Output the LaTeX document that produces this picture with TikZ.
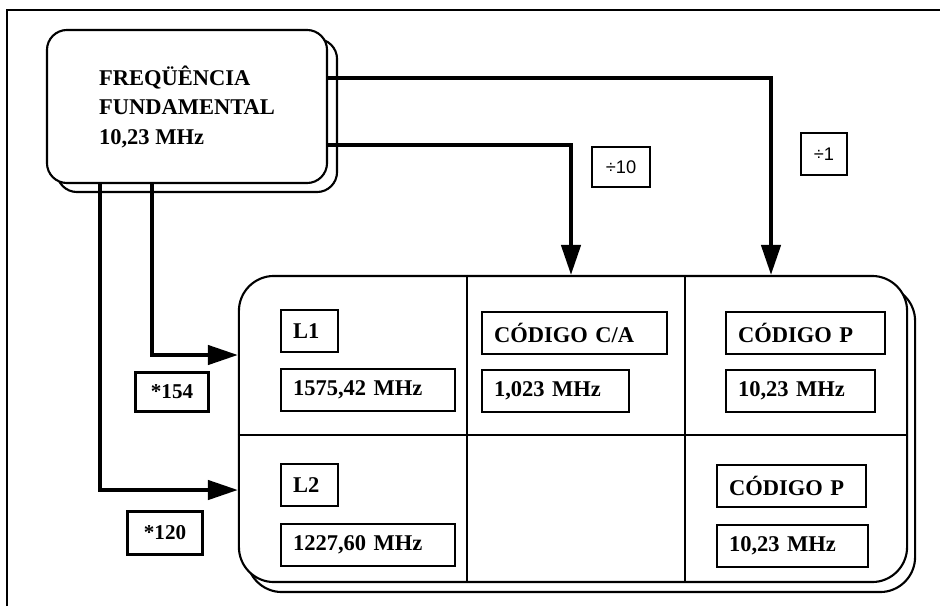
\documentclass[tikz,border=0pt]{standalone}
\usepackage{fontspec}
\setmainfont{Liberation Serif}
\newfontfamily\gsans{Liberation Sans}
\usetikzlibrary{arrows.meta,shadows}
\tikzset{
  gsource/.style={draw,line width=1.5pt,fill=white,rounded corners=0.5cm,minimum width=7cm,minimum height=3.825cm,align=left,font=\bfseries\fontsize{16}{21}\selectfont,copy shadow={shadow xshift=0.25cm,shadow yshift=-0.225cm,draw=black,fill=white,line width=1.5pt}},
  gpanel/.style={draw,line width=1.5pt,fill=white,rounded corners=0.875cm,minimum width=16.7cm,minimum height=7.65cm,copy shadow={shadow xshift=0.2cm,shadow yshift=-0.25cm,draw=black,fill=white,line width=1.5pt}},
  gfield/.style={draw,line width=1.5pt,anchor=north west,inner xsep=0.3cm,inner ysep=0pt,minimum height=1.05cm,align=left,font=\bfseries\fontsize{16}{19}\selectfont},
  gfactor/.style={draw,line width=1.5pt,inner sep=0pt},
  gmul/.style={gfactor,font=\bfseries\fontsize{15}{18}\selectfont},
  gdiv/.style={gfactor,font=\gsans\fontsize{13}{15}\selectfont},
  garrow/.style={line width=2.8pt,-{Triangle[length=0.75cm,width=0.48cm]}},
  gline/.style={line width=1.2pt},
}

\begin{document}
\begin{tikzpicture}[x=0.025cm,y=-0.025cm]
\useasboundingbox (0,0) rectangle (940,606);
% ---- frame
\draw[line width=1.2pt] (7,606) -- (7,10) -- (940,10);
% ---- the oscillator and the signal panel
\node[gsource] (freq) at (187,106.5) {FREQÜÊNCIA\\FUNDAMENTAL\\10,23 MHz};
\node[gpanel] (sinal) at (573,429) {};
\draw[gline] (sinal.north -| 467,0) -- (sinal.south -| 467,0);
\draw[gline] (sinal.north -| 685,0) -- (sinal.south -| 685,0);
\draw[gline] (sinal.west |- 0,435) -- (sinal.east |- 0,435);
% ---- fields inside the panel
\node[gfield,text width=0.825cm] (l1) at (280,309) {L1};
\node[gfield,text width=3.75cm] (fl1) at (280,368) {1575,42 MHz};
\node[gfield,text width=0.825cm] (l2) at (280,463) {L2};
\node[gfield,text width=3.75cm] (fl2) at (280,523) {1227,60 MHz};
\node[gfield,text width=4.025cm] (ca) at (481,311) {CÓDIGO C/A};
\node[gfield,text width=3.075cm] (fca) at (481,369) {1,023 MHz};
\node[gfield,text width=3.375cm] (p1) at (725,311) {CÓDIGO P};
\node[gfield,text width=3.125cm] (fp1) at (725,369) {10,23 MHz};
\node[gfield,text width=3.125cm] (p2) at (716,464) {CÓDIGO P};
\node[gfield,text width=3.175cm] (fp2) at (716,524) {10,23 MHz};
% ---- factors
\node[gdiv,minimum width=1.45cm,minimum height=1cm] (div10) at (621,167) {÷10};
\node[gdiv,minimum width=1.15cm,minimum height=1.05cm] (div1) at (824,154) {÷1};
\node[gmul,minimum width=1.825cm,minimum height=0.975cm] (m154) at (172,392) {*154};
\node[gmul,minimum width=1.875cm,minimum height=1.075cm] (m120) at (165,533) {*120};
% ---- connectors
\coordinate (entP) at (sinal.north -| 771,0);
\coordinate (entCA) at (sinal.north -| 571,0);
\draw[garrow] (freq.east |- 0,78) -| (entP);
\draw[garrow] (freq.east |- 0,145) -| (entCA);
\draw[garrow] (freq.south -| 152,0) |- (sinal.west |- 0,355);
\draw[garrow] (freq.south -| 100,0) |- (sinal.west |- 0,490);
\end{tikzpicture}
\end{document}
